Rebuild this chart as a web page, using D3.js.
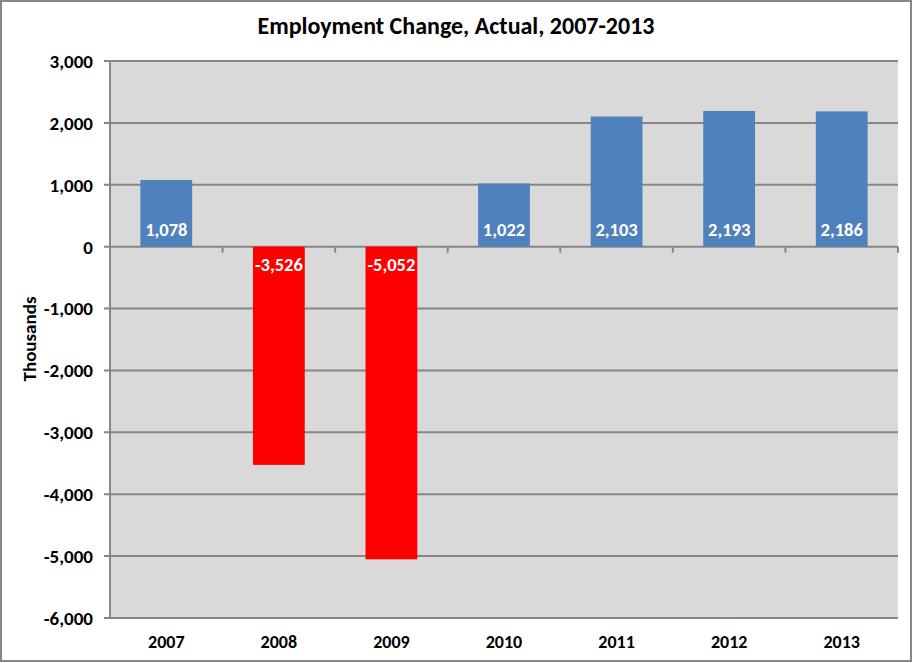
<!DOCTYPE html>
<html>
<head>
<meta charset="utf-8">
<script src="https://cdn.jsdelivr.net/npm/d3@7"></script>
<style>
  body { margin: 0; background: #fff; }
  text { font-family: Calibri, Carlito, Lato, sans-serif; font-weight: bold; }
</style>
</head>
<body>
<svg id="chart"></svg>
<script>
const years = ['2007', '2008', '2009', '2010', '2011', '2012', '2013'];
const changes = [1078, -3526, -5052, 1022, 2103, 2193, 2186];
const yTicks = [3000, 2000, 1000, 0, -1000, -2000, -3000, -4000, -5000, -6000];

// excel style numbers: plain hyphen for negatives
const fmt = d3.formatLocale({ decimal: '.', thousands: ',', grouping: [3], currency: ['', ''], minus: '-' }).format(',');

function makeChart() {
	let w = 913;
	let h = 663;
	let left = 110, right = 898, top = 61, bottom = 618;

	let chart = d3.select('#chart')
		.attr('width', w)
		.attr('height', h);

	// outer frame
	chart.append('rect')
		.attr('x', 1).attr('y', 1)
		.attr('width', w - 3).attr('height', h - 3)
		.style('fill', '#fff')
		.style('stroke', '#868686')
		.style('stroke-width', 2);

	let x = d3.scaleBand()
		.domain(years)
		.range([left, right])
		.padding(0);

	let y = d3.scaleLinear()
		.domain([-6000, 3000])
		.range([bottom, top]);

	chart.append('rect')
		.attr('x', left).attr('y', top)
		.attr('width', right - left).attr('height', bottom - top)
		.style('fill', '#d9d9d9');

	// gridlines
	chart.selectAll('line.grid')
		.data(yTicks)
		.enter()
		.append('line')
		.attr('class', 'grid')
		.attr('x1', left - 6)
		.attr('x2', right)
		.attr('y1', d => y(d))
		.attr('y2', d => y(d))
		.style('stroke', '#868686')
		.style('stroke-width', 2);

	// y axis labels
	chart.selectAll('text.ylab')
		.data(yTicks)
		.enter()
		.append('text')
		.attr('class', 'ylab')
		.attr('x', 93)
		.attr('y', d => y(d))
		.attr('dy', '0.36em')
		.attr('text-anchor', 'end')
		.style('font-size', '19px')
		.text(d => fmt(d));

	// bars
	let bw = x.bandwidth();
	chart.selectAll('rect.bar')
		.data(changes)
		.enter()
		.append('rect')
		.attr('class', 'bar')
		.attr('x', (d, i) => x(years[i]) + bw * 0.27)
		.attr('width', bw * 0.46)
		.attr('y', d => y(Math.max(0, d)))
		.attr('height', d => Math.abs(y(d) - y(0)))
		.style('fill', d => d < 0 ? '#ff0000' : '#4f81bd');

	// y axis line
	chart.append('line')
		.attr('x1', left).attr('x2', left)
		.attr('y1', top).attr('y2', bottom + 1)
		.style('stroke', '#868686')
		.style('stroke-width', 2);

	// category ticks on zero line
	chart.selectAll('line.xtick')
		.data(years.slice(1).concat(['end']))
		.enter()
		.append('line')
		.attr('class', 'xtick')
		.attr('x1', (d, i) => left + bw * (i + 1))
		.attr('x2', (d, i) => left + bw * (i + 1))
		.attr('y1', y(0))
		.attr('y2', y(0) + 6)
		.style('stroke', '#868686')
		.style('stroke-width', 2);

	// value labels
	chart.selectAll('text.val')
		.data(changes)
		.enter()
		.append('text')
		.attr('class', 'val')
		.attr('x', (d, i) => x(years[i]) + bw / 2)
		.attr('y', d => d < 0 ? y(0) + 24 : y(0) - 11)
		.attr('text-anchor', 'middle')
		.style('font-size', '18.5px')
		.style('fill', '#fff')
		.text(d => fmt(d));

	// category labels
	chart.selectAll('text.xlab')
		.data(years)
		.enter()
		.append('text')
		.attr('class', 'xlab')
		.attr('x', d => x(d) + bw / 2)
		.attr('y', 648)
		.attr('text-anchor', 'middle')
		.style('font-size', '18px')
		.text(d => d);

	chart.append('text')
		.attr('x', 456)
		.attr('y', 34)
		.attr('text-anchor', 'middle')
		.style('font-size', '24px')
		.text('Employment Change, Actual, 2007-2013');

	chart.append('text')
		.attr('transform', 'translate(36,339) rotate(-90)')
		.attr('text-anchor', 'middle')
		.style('font-size', '19px')
		.text('Thousands');
}

window.onload = function () {
	makeChart();
}
</script>
</body>
</html>
